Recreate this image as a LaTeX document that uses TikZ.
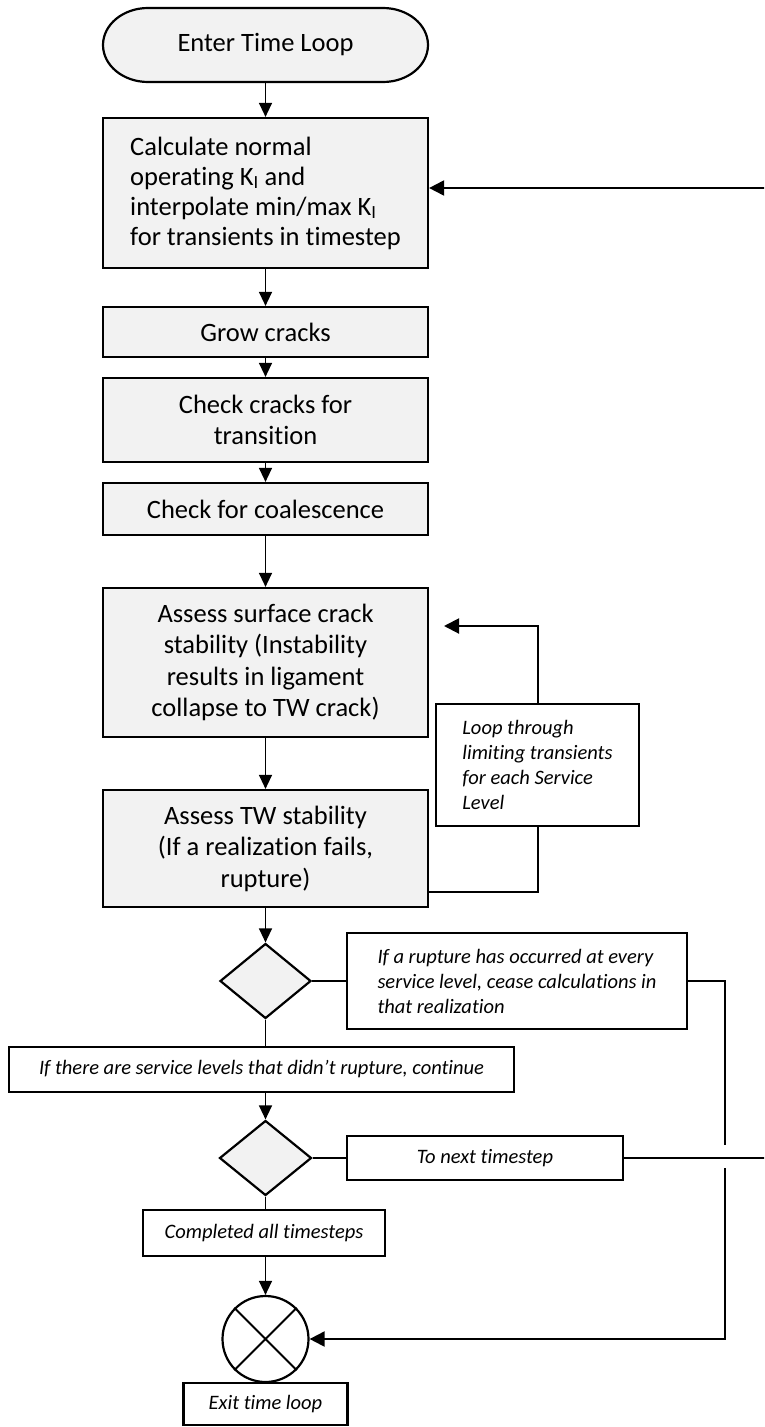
\documentclass[tikz,border=0pt]{standalone}
\usepackage{fontspec}
\setmainfont[Ligatures=NoCommon]{Carlito}
\usetikzlibrary{arrows.meta,shapes.geometric}
\definecolor{boxfill}{HTML}{F2F2F2}
\begin{document}
\begin{tikzpicture}[x=1pt,y=-1pt,
  mainfont/.style={font=\fontsize{26.5}{31.5}\selectfont},
  notefont/.style={font=\fontsize{20.5}{25}\selectfont\itshape},
  proc/.style={draw, line width=2.2pt, fill=boxfill, mainfont, align=center, inner sep=0pt, minimum width=325pt},
  note/.style={draw, line width=2.2pt, fill=white, notefont, align=center, inner sep=0pt},
  dec/.style={draw, line width=2.2pt, fill=boxfill, diamond, inner sep=0pt},
  flow/.style={line width=1.3pt, -{Triangle[length=14pt,width=13pt]}},
  link/.style={line width=1.6pt},
  side/.style={line width=2pt},
  sidearrow/.style={line width=2pt, -{Triangle[length=15pt,width=15pt]}}]
\useasboundingbox (0,0) rectangle (764,1427);
\clip (0,0) rectangle (764,1427);

% start terminal
\draw[line width=2.2pt, fill=boxfill] (148,8) -- (383,8) arc[start angle=-90, end angle=90, x radius=45, y radius=37] -- (148,82) arc[start angle=90, end angle=270, x radius=45, y radius=37] -- cycle;
\node[mainfont, minimum width=325pt, minimum height=74pt, inner sep=0pt] (start) at (265.5,45) {Enter Time Loop};

\node[proc, minimum height=150pt, align=left, font=\fontsize{26.5}{30}\selectfont] (calc) at (265.5,193)
  {Calculate normal\\operating K\textsubscript{I} and\\interpolate min/max K\textsubscript{I}\\for transients in timestep};
\node[proc, minimum height=50pt] (grow) at (265.5,332) {Grow cracks};
\node[proc, minimum height=84pt] (check) at (265.5,420) {Check cracks for\\transition};
\node[proc, minimum height=52pt] (coal) at (265.5,509) {Check for coalescence};
\node[proc, minimum height=149pt] (surf) at (265.5,662.5) {Assess surface crack\\stability (Instability\\results in ligament\\collapse to TW crack)};
\node[proc, minimum height=117pt] (tw) at (265.5,848.5) {Assess TW stability\\(If a realization fails,\\rupture)};

\node[note, align=left, minimum width=203pt, minimum height=122pt] (loop) at (537.5,765)
  {Loop through\\limiting transients\\for each Service\\Level};

\node[dec, minimum width=91pt, minimum height=75pt] (d1) at (265.5,981) {};
\node[note, align=left, minimum width=340pt, minimum height=96pt] (rupt) at (517,981)
  {If a rupture has occurred at every\\service level, cease calculations in\\that realization};
\node[note, minimum width=505pt, minimum height=45pt] (cont) at (261.5,1069.5)
  {If there are service levels that didn’t rupture, continue};
\node[dec, minimum width=92pt, minimum height=75pt] (d2) at (265.5,1158) {};
\node[note, minimum width=276pt, minimum height=44pt] (next) at (485,1158) {To next timestep};
\node[note, minimum width=242pt, minimum height=46pt] (done) at (264,1233) {Completed all timesteps};
\node[circle, draw, line width=2.2pt, fill=white, minimum size=86pt, inner sep=0pt] (exitc) at (265.5,1339) {};
\draw[line width=1.8pt] (exitc.north east) -- (exitc.south west) (exitc.north west) -- (exitc.south east);
\node[note, minimum width=164pt, minimum height=42pt] (exitl) at (265.5,1404) {Exit time loop};

% main flow
\draw[flow] (start) -- (calc);
\draw[flow] (calc) -- (grow);
\draw[flow] (grow) -- (check);
\draw[flow] (check) -- (coal);
\draw[flow] (coal) -- (surf);
\draw[flow] (surf) -- (tw);
\draw[flow] (tw) -- (d1);
\draw[link] (d1.south) -- (d1.south |- cont.north);
\draw[flow] (d2.north |- cont.south) -- (d2.north);
\draw[link] (d2.south) -- (d2.south |- done.north);
\draw[flow] (exitc.north |- done.south) -- (exitc.north);

% loop through transients
\coordinate (ly) at (0,892);
\coordinate (lend) at (444,626);
\draw[side] (tw.east |- ly) -| (loop.south);
\draw[sidearrow] (loop.north) |- (lend);

% rupture branch
\draw[link] (d1.east) -- (rupt.west);
\coordinate (gapT) at (724.5,1145);
\coordinate (gapB) at (724.5,1168);
\draw[sidearrow] (rupt.east) -| (gapT) (gapB) |- (exitc.east);

% next timestep
\draw[link] (d2.east) -- (next.west);
\coordinate (far) at (767,188);
\draw[sidearrow] (next.east) -| (far) -- (calc.east |- far);
\end{tikzpicture}
\end{document}
